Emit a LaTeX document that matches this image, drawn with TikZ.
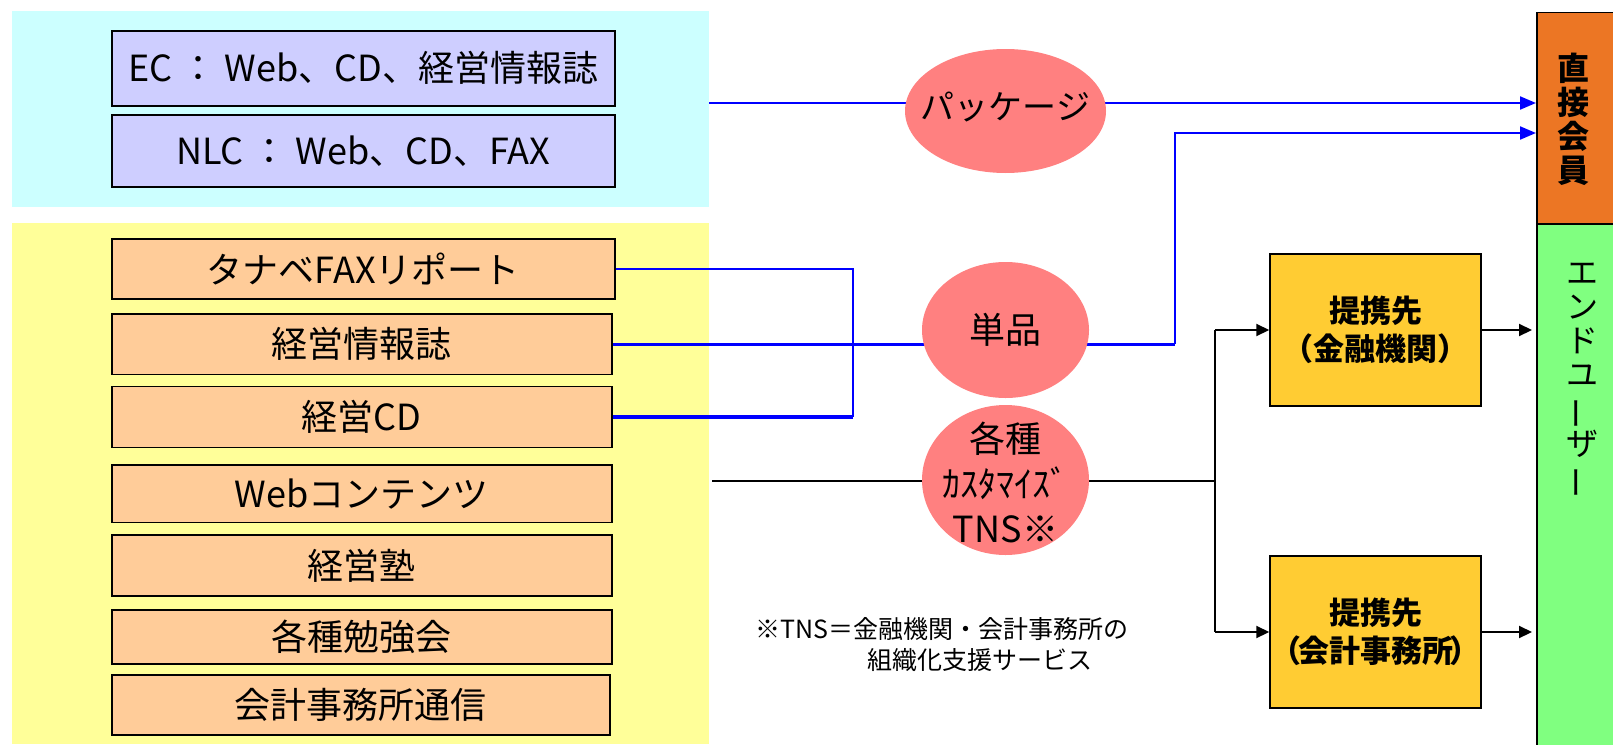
\documentclass[tikz,border=0pt]{standalone}
\usepackage{fontspec}
\setmainfont{Noto Sans CJK JP}
\usepackage{graphicx}
\usetikzlibrary{shapes.geometric,arrows.meta}
\pgfdeclarelayer{back}
\pgfdeclarelayer{mid}
\pgfsetlayers{back,mid,main}
\definecolor{bgcyan}{RGB}{204,255,255}
\definecolor{bgyellow}{RGB}{255,255,153}
\definecolor{lav}{RGB}{206,206,255}
\definecolor{peach}{RGB}{255,204,153}
\definecolor{gold}{RGB}{255,204,51}
\definecolor{pinkell}{RGB}{255,128,128}
\definecolor{dmorange}{RGB}{236,118,36}
\definecolor{eugreen}{RGB}{128,255,128}
\newcommand{\vbar}{\rotatebox[origin=c]{90}{ー}}
\tikzset{
  bigfont/.style={font=\fontsize{36}{40}\selectfont},
  lavbox/.style={draw=black, line width=1.5pt, fill=lav, rectangle, inner sep=0pt, bigfont},
  peachbox/.style={draw=black, line width=1.5pt, fill=peach, rectangle, inner sep=0pt, bigfont},
  goldbox/.style={draw=black, line width=1.5pt, fill=gold, rectangle, inner sep=0pt,
     minimum width=211pt, minimum height=152pt, align=center,
     font=\fontsize{31}{38}\selectfont\bfseries},
  oval/.style={ellipse, fill=pinkell, draw=none, inner sep=0pt},
  ovaltext/.style={align=center, inner sep=0pt, bigfont},
  colbox/.style={draw=black, line width=1.5pt, rectangle, inner sep=0pt, anchor=north west, minimum width=84pt},
  coltext/.style={align=center, inner sep=0pt, font=\fontsize{32}{34}\selectfont},
  bthin/.style={draw=blue, line width=2pt},
  bthick/.style={draw=blue, line width=3.5pt},
  blk/.style={draw=black, line width=2pt},
  btip/.style={-{Triangle[length=16pt,width=13pt]}},
  ktip/.style={-{Triangle[length=13pt,width=12pt]}},
}
\begin{document}
\begin{tikzpicture}[x=1pt,y=-1pt]
\useasboundingbox (0,0) rectangle (1613,744);
% background panels
\begin{pgfonlayer}{back}
  \fill[bgcyan] (11.5,11) rectangle (709,207);
  \fill[bgyellow] (11.5,223) rectangle (709,744);
\end{pgfonlayer}
% boxes
\node[lavbox, minimum width=503pt, minimum height=75pt] (ec) at (363.3,68.3) {EC ： Web、CD、経営情報誌};
\node[lavbox, minimum width=503pt, minimum height=72pt] (nlc) at (363.3,151) {NLC ： Web、CD、FAX};
\node[peachbox, minimum width=503pt, minimum height=60pt] (tanabe) at (363.3,269.2) {タナベFAXリポート};
\node[peachbox, minimum width=500pt, minimum height=60.7pt] (joho) at (361.8,344.3) {経営情報誌};
\node[peachbox, minimum width=500pt, minimum height=61pt] (cd) at (361.8,417.2) {経営CD};
\node[peachbox, minimum width=500pt, minimum height=57.7pt] (web) at (361.8,493.8) {Webコンテンツ};
\node[peachbox, minimum width=500pt, minimum height=61pt] (juku) at (361.8,565.5) {経営塾};
\node[peachbox, minimum width=500pt, minimum height=54pt] (benkyo) at (361.8,637) {各種勉強会};
\node[peachbox, minimum width=498pt, minimum height=60pt] (kaikei) at (360.8,705) {会計事務所通信};
% ellipses
\node[oval, minimum width=201pt, minimum height=124pt] (pkg) at (1005.5,111) {};
\node[ovaltext, font=\fontsize{34}{40}\selectfont] (pkgt) at (1005.5,107) {パッケージ};
\node[oval, minimum width=167pt, minimum height=136pt] (tanpin) at (1005.5,330) {};
\node[ovaltext] (tanpint) at (tanpin.center) {単品};
\node[oval, minimum width=167pt, minimum height=150pt] (kakushu) at (1005.5,480) {};
\node[ovaltext, font=\fontsize{36}{45}\selectfont] (kakushut) at (1005.5,482) {各種\\ｶｽﾀﾏｲｽﾞ\\TNS※};
% partner boxes
\node[goldbox] (fin) at (1375.5,330) {提携先\\（金融機関）};
\node[goldbox] (acc) at (1375.5,632) {提携先\\（\kern-0.12em 会計事務所\kern-0.12em ）};
% right columns
\node[colbox, fill=dmorange, minimum height=211.3pt] (dm) at (1536,11.7) {};
\node[colbox, fill=eugreen, minimum height=530pt] (eu) at (1536,223) {};
\node[coltext, font=\fontsize{32}{34}\selectfont\bfseries] (dmtext) at (1573,119) {直\\接\\会\\員};
\node[coltext] (eutext) at (1582,381) {エ\\ン\\ド\\ユ\\\vbar\\ザ\\\vbar};
% footnote
\node[anchor=west, align=left, inner sep=0pt, font=\fontsize{25}{31}\selectfont] (note) at (755,644.5)
  {※TNS＝金融機関・会計事務所の\\\hspace*{112pt}組織化支援サービス};
% connectors
\coordinate (pkgs) at (709,103);
\path (cd.east) ++(240,0) coordinate (vj);
\coordinate (rise) at (1175,344.3);
\coordinate (rtop) at (1175,133);
\coordinate (ks) at (712,481);
\coordinate (split) at (1215,481);
\begin{pgfonlayer}{mid}
  \draw[bthin, btip] (pkgs) -- (pkgs -| dm.west);
  \draw[bthin] (tanabe.east) -| (vj);
  \draw[bthick] (cd.east) -- (vj);
  \draw[bthick] (joho.east) -- (rise);
  \draw[bthin, btip] (rise) -- (rtop) -- (rtop -| dm.west);
  \draw[blk] (ks) -- (split);
  \draw[blk] (split |- fin.west) -- (split |- acc.west);
  \draw[blk, ktip] (split |- fin.west) -- (fin.west);
  \draw[blk, ktip] (split |- acc.west) -- (acc.west);
  \draw[blk, ktip, shorten >=4pt] (fin.east) -- (fin.east -| eu.west);
  \draw[blk, ktip, shorten >=4pt] (acc.east) -- (acc.east -| eu.west);
\end{pgfonlayer}
\end{tikzpicture}
\end{document}
